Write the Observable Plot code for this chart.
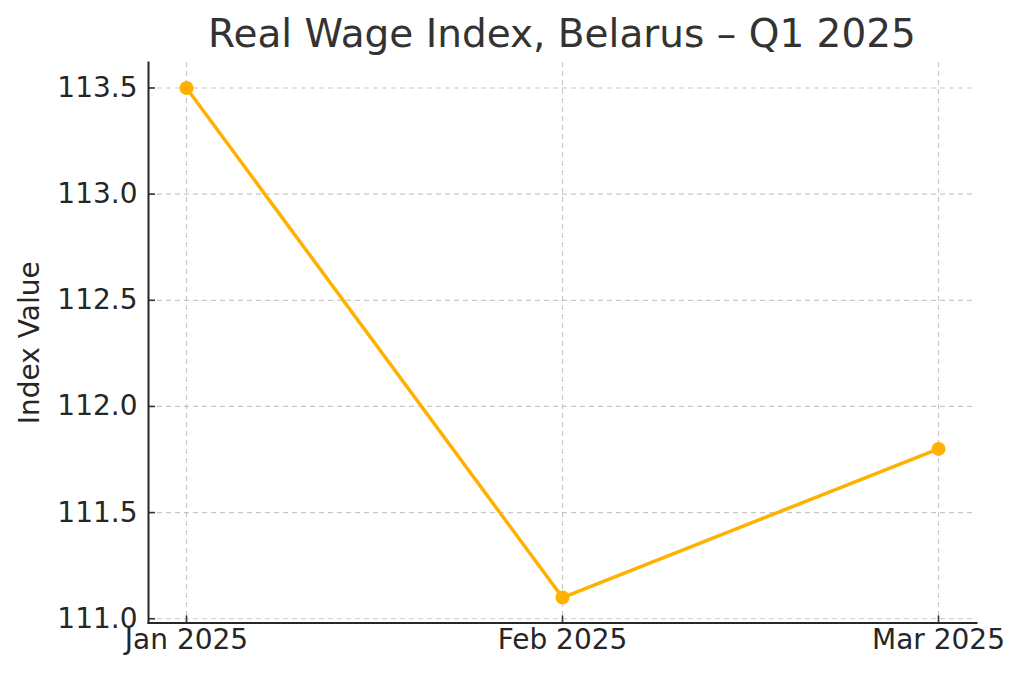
<!DOCTYPE html>
<html>
<head>
<meta charset="utf-8">
<script src="https://cdn.jsdelivr.net/npm/d3@7"></script>
<script src="https://cdn.jsdelivr.net/npm/@observablehq/plot@0.6"></script>
<style>
  html, body { margin: 0; padding: 0; background: #fff; }
  #wrap { position: relative; width: 1024px; height: 678px; font-family: "DejaVu Sans", sans-serif; }
  #title { position: absolute; left: 148px; width: 828px; top: 9px; text-align: center; font-size: 39px; color: #333; line-height: 50px; white-space: nowrap; }
  #chart { position: absolute; left: 0; top: 0; }
</style>
</head>
<body>
<div id="wrap">
  <div id="chart"></div>
  <div id="title">Real Wage Index, Belarus – Q1 2025</div>
</div>
<script>
const months = ["Jan 2025", "Feb 2025", "Mar 2025"];
const values = [113.5, 111.1, 111.8];
const yTicks = [111.0, 111.5, 112.0, 112.5, 113.0, 113.5];

const data = months.map((m, i) => ({month: m, value: values[i]}));

const W = 1024, H = 678, mL = 148, mR = 48, mT = 62, mB = 55.5;
const innerW = W - mL - mR, innerH = H - mT - mB;

const chart = Plot.plot({
  width: W,
  height: H,
  marginLeft: mL,
  marginRight: mR,
  marginTop: mT,
  marginBottom: mB,
  style: {fontFamily: "DejaVu Sans, sans-serif", fontSize: "28px", color: "#262626", background: "white"},
  x: {type: "point", domain: months, padding: 0.1},
  y: {domain: [110.98, 113.62]},
  marks: [
    Plot.gridX(months, {stroke: "#b0b0b0", strokeOpacity: 0.7, strokeDasharray: "5,4", strokeWidth: 1.2}),
    Plot.gridY(yTicks, {stroke: "#b0b0b0", strokeOpacity: 0.7, strokeDasharray: "5,4", strokeWidth: 1.2}),
    // inward tick marks
    Plot.tickY(yTicks, {y: d => d, stroke: "#333", strokeWidth: 1.6, insetRight: innerW - 7}),
    Plot.tickX(months, {x: d => d, stroke: "#333", strokeWidth: 1.6, insetTop: innerH - 7}),
    Plot.axisY(yTicks, {tickSize: 0, tickPadding: 11, tickFormat: d => d.toFixed(1), label: null, fill: "#262626"}),
    Plot.axisX(months, {tickSize: 0, tickPadding: 6, label: null, fill: "#262626"}),
    Plot.text(["Index Value"], {frameAnchor: "left", dx: -118, rotate: -90, textAnchor: "middle", fontSize: 28, fill: "#262626"}),
    Plot.frame({anchor: "left", stroke: "#262626", strokeWidth: 2}),
    Plot.frame({anchor: "bottom", stroke: "#262626", strokeWidth: 2}),
    Plot.line(data, {x: "month", y: "value", stroke: "#ffb000", strokeWidth: 3.5}),
    Plot.dot(data, {x: "month", y: "value", fill: "#ffb000", r: 7})
  ]
});
document.getElementById("chart").appendChild(chart);
</script>
</body>
</html>
